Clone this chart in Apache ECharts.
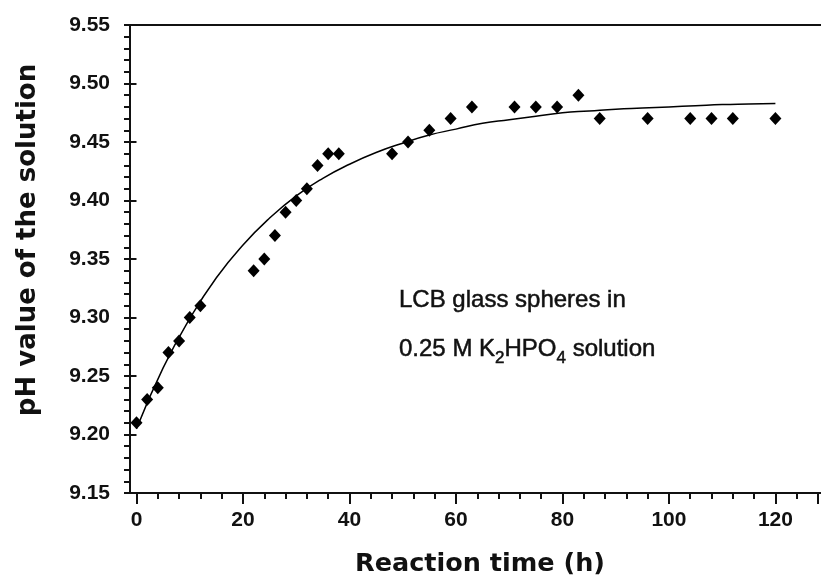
<!DOCTYPE html>
<html>
<head>
<meta charset="utf-8">
<script src="https://cdn.jsdelivr.net/npm/echarts@6/dist/echarts.min.js"></script>
<style>html,body{margin:0;padding:0;background:#fff;}#c{width:821px;height:580px;}</style>
</head>
<body>
<div id="c"></div>
<script>
// measured points
const timeH = [0, 2, 4, 6, 8, 10, 12, 22, 24, 26, 28, 30, 32, 34, 36, 38, 48, 51, 55, 59, 63, 71, 75, 79, 83, 87, 96, 104, 108, 112, 120];
const phValue = [9.21, 9.23, 9.24, 9.27, 9.28, 9.30, 9.31, 9.34, 9.35, 9.37, 9.39, 9.40, 9.41, 9.43, 9.44, 9.44, 9.44, 9.45, 9.46, 9.47, 9.48, 9.48, 9.48, 9.48, 9.49, 9.47, 9.47, 9.47, 9.47, 9.47, 9.47];
// fitted curve
const curveX = [0, 5, 10, 15, 20, 25, 30, 35, 40, 45, 50, 55, 60, 65, 70, 75, 80, 85, 90, 95, 100, 105, 110, 115, 120];
const curveY = [9.205, 9.257, 9.299, 9.334, 9.362, 9.385, 9.404, 9.419, 9.431, 9.441, 9.449, 9.456, 9.461, 9.466, 9.469, 9.472, 9.475, 9.4765, 9.478, 9.479, 9.480, 9.481, 9.482, 9.4825, 9.483];
// tick labels
const xTickLabels = ['0', '20', '40', '60', '80', '100', '120'];
const yTickLabels = ['9.15', '9.20', '9.25', '9.30', '9.35', '9.40', '9.45', '9.50', '9.55'];

const ink = '#111';
const chart = echarts.init(document.getElementById('c'), null, {renderer: 'canvas'});

const scatterData = timeH.map((t, i) => [t, phValue[i]]);
const curveData = curveX.map((t, i) => [t, curveY[i]]);

const tickFont = {fontFamily: 'Liberation Sans', fontWeight: 'bold', fontSize: 21, color: ink};

chart.setOption({
  animation: false,
  backgroundColor: '#fff',
  grid: [
    {left: 136.5, right: 2, top: 25, bottom: 87},
    {left: 130, right: 0, top: 25, bottom: 87}
  ],
  xAxis: [
    {
      type: 'value', gridIndex: 0, position: 'bottom', min: 0, max: 128, interval: 4,
      axisLine: {show: false},
      axisTick: {show: true, length: 6, lineStyle: {color: ink, width: 2}},
      axisLabel: Object.assign({
        margin: 17,
        formatter: v => { const s = String(Math.round(v)); return xTickLabels.includes(s) && Math.abs(v - Math.round(v)) < 1e-6 ? s : ''; }
      }, tickFont),
      splitLine: {show: false}
    },
    {
      type: 'value', gridIndex: 0, position: 'bottom', min: 0, max: 128, interval: 20,
      axisLine: {show: false},
      axisTick: {show: true, length: 11, lineStyle: {color: ink, width: 2}},
      axisLabel: {show: false},
      splitLine: {show: false}
    },
    {
      type: 'value', gridIndex: 1, position: 'bottom', min: 0, max: 1,
      axisLine: {show: true, onZero: false, lineStyle: {color: ink, width: 2}},
      axisTick: {show: false}, axisLabel: {show: false}, splitLine: {show: false}
    },
    {
      type: 'value', gridIndex: 1, position: 'top', min: 0, max: 1,
      axisLine: {show: true, onZero: false, lineStyle: {color: ink, width: 2}},
      axisTick: {show: false}, axisLabel: {show: false}, splitLine: {show: false}
    }
  ],
  yAxis: [
    {
      type: 'value', gridIndex: 0, position: 'left', min: 9.15, max: 9.55, interval: 0.01, offset: 6.5,
      axisLine: {show: true, onZero: false, lineStyle: {color: ink, width: 2}},
      axisTick: {show: true, length: 6, lineStyle: {color: ink, width: 2}},
      axisLabel: Object.assign({
        margin: 20,
        formatter: v => { const s = v.toFixed(2); return yTickLabels.includes(s) && Math.abs(v * 100 - Math.round(v * 100)) < 1e-6 ? s : ''; }
      }, tickFont),
      splitLine: {show: false}
    },
    {
      type: 'value', gridIndex: 0, position: 'left', min: 9.15, max: 9.55, interval: 0.05, offset: 6.5,
      axisLine: {show: false},
      axisTick: {show: true, length: 10, lineStyle: {color: ink, width: 2}},
      axisLabel: {show: false},
      splitLine: {show: false}
    },
    {
      type: 'value', gridIndex: 1, min: 0, max: 1, show: false
    }
  ],
  series: [
    {
      type: 'line', xAxisIndex: 0, yAxisIndex: 0, data: curveData,
      smooth: true, showSymbol: false, symbol: 'none',
      lineStyle: {color: '#000', width: 1.5}, z: 2
    },
    {
      type: 'scatter', xAxisIndex: 0, yAxisIndex: 0, data: scatterData,
      symbol: 'diamond', symbolSize: [12, 13],
      itemStyle: {color: '#000', opacity: 1}, z: 3
    }
  ],
  graphic: [
    {
      type: 'text', x: 480, y: 564,
      style: {text: 'Reaction time (h)', fontFamily: 'DejaVu Sans', fontWeight: 'bold', fontSize: 25.5, fill: ink, align: 'center', verticalAlign: 'middle'}
    },
    {
      type: 'text', x: 28, y: 240, rotation: Math.PI / 2,
      style: {text: 'pH value of the solution', fontFamily: 'DejaVu Sans', fontWeight: 'bold', fontSize: 26, fill: ink, align: 'center', verticalAlign: 'middle'}
    },
    {
      type: 'text', x: 399, y: 300,
      style: {text: 'LCB glass spheres in', fontFamily: 'Liberation Sans', fontSize: 24, fill: ink, align: 'left', verticalAlign: 'middle', stroke: ink, lineWidth: 0.5}
    },
    {
      type: 'text', x: 399, y: 349,
      style: {
        text: '{n|0.25 M K}{s|2}{n|HPO}{s|4}{n| solution}',
        align: 'left', verticalAlign: 'middle',
        rich: {
          n: {fontFamily: 'Liberation Sans', fontSize: 24, fill: ink, lineHeight: 36, stroke: ink, lineWidth: 0.5},
          s: {fontFamily: 'Liberation Sans', fontSize: 17, fill: ink, lineHeight: 17, verticalAlign: 'bottom', stroke: ink, lineWidth: 0.5}
        }
      }
    }
  ]
});
</script>
</body>
</html>
